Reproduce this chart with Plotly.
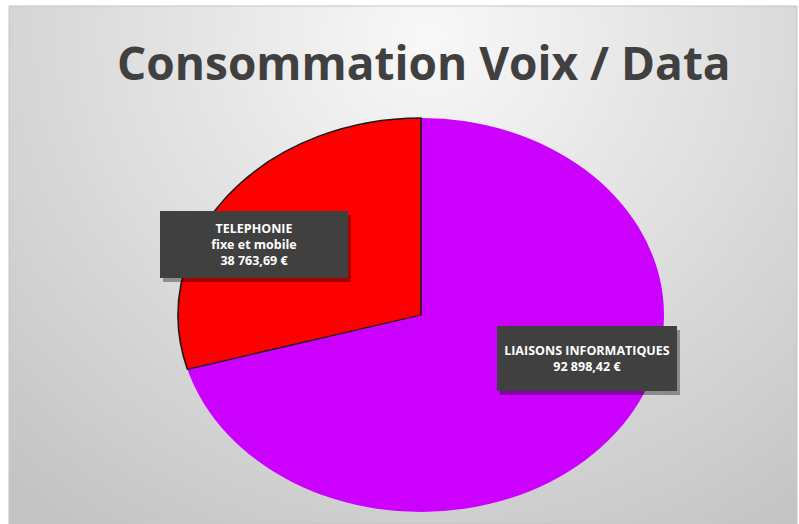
import base64, struct, zlib
import numpy as np
import plotly.graph_objects as go

# ---- data ----
title_text = "Consommation Voix / Data"
labels = ["LIAISONS INFORMATIQUES", "TELEPHONIE<br>fixe et mobile"]
values = [92898.42, 38763.69]
slice_colors = ["#CC00FF", "#FF0000"]

W, H = 799, 524

def fmt_eur(v):
    s = f"{v:,.2f}".replace(",", " ").replace(".", ",")
    return s + " €"

def px(x):
    return x / W

def py(y):
    return 1 - y / H

# ---- radial gradient background (PNG data URI) ----
def gradient_png(w, h):
    yy, xx = np.mgrid[0:h, 0:w].astype(float)
    cx, cy = 420.0, 30.0
    r = np.sqrt(((xx - cx) / 1.05) ** 2 + (yy - cy) ** 2)
    t = np.clip(r / 600.0, 0, 1)
    v = (249 - 53 * t).astype(np.uint8)
    raw = np.hstack([np.zeros((h, 1), np.uint8), v]).tobytes()
    def chunk(tag, data):
        c = struct.pack(">I", len(data)) + tag + data
        return c + struct.pack(">I", zlib.crc32(tag + data) & 0xFFFFFFFF)
    png = b"\x89PNG\r\n\x1a\n"
    png += chunk(b"IHDR", struct.pack(">IIBBBBB", w, h, 8, 0, 0, 0, 0))
    png += chunk(b"IDAT", zlib.compress(raw, 9))
    png += chunk(b"IEND", b"")
    return "data:image/png;base64," + base64.b64encode(png).decode()

fx0, fy0, fx1, fy1 = 9, 6, 797, 524
bg = gradient_png(fx1 - fx0, fy1 - fy0)

# ---- pie ----
cx, cy, rad = 421, 315, 197
stretch = 243 / 197   # the reference pie is drawn as an ellipse
fig = go.Figure(go.Pie(
    labels=labels,
    values=values,
    sort=False,
    direction="clockwise",
    rotation=0,
    textinfo="none",
    hoverinfo="label+value+percent",
    marker=dict(colors=slice_colors,
                line=dict(color=["rgba(0,0,0,0)", "#1a1a1a"], width=[0, 1.3])),
    domain=dict(x=[px(cx - rad), px(cx + rad)], y=[py(cy + rad), py(cy - rad)]),
    showlegend=False,
))

# ---- label boxes ----
boxes = [
    (497, 326, 677, 391),   # LIAISONS
    (160, 211, 348, 278),   # TELEPHONIE
]
shapes = [dict(type="rect", xref="paper", yref="paper",
               x0=px(fx0), y0=py(fy1), x1=px(fx1), y1=py(fy0),
               line=dict(color="#c4c4c4", width=1), fillcolor="rgba(0,0,0,0)",
               layer="below")]
annotations = []
for (x0, y0, x1, y1), lab, val in zip(boxes, labels, values):
    shapes.append(dict(type="rect", xref="paper", yref="paper",
                       x0=px(x0 + 3), y0=py(y1 + 4), x1=px(x1 + 3), y1=py(y0 + 4),
                       line=dict(width=0), fillcolor="rgba(0,0,0,0.35)", layer="above"))
    annotations.append(dict(
        x=px((x0 + x1) / 2), y=py((y0 + y1) / 2), xref="paper", yref="paper",
        xanchor="center", yanchor="middle", showarrow=False,
        text="<b>" + lab + "<br>" + fmt_eur(val) + "</b>",
        font=dict(family="Open Sans", size=12.5, color="#ffffff"),
        bgcolor="#404040", borderpad=0, borderwidth=0,
        width=x1 - x0, height=y1 - y0, align="center",
    ))

annotations.append(dict(
    x=px(424), y=py(62), xref="paper", yref="paper",
    xanchor="center", yanchor="middle", showarrow=False,
    text="<b>" + title_text + "</b>",
    font=dict(family="Open Sans", size=46, color="#404040"),
))

fig.update_layout(
    width=W, height=H,
    margin=dict(l=0, r=0, t=0, b=0),
    paper_bgcolor="#ffffff",
    plot_bgcolor="rgba(0,0,0,0)",
    images=[dict(source=bg, xref="paper", yref="paper",
                 x=px(fx0), y=py(fy0), sizex=px(fx1) - px(fx0), sizey=py(fy0) - py(fy1),
                 sizing="stretch", layer="below", xanchor="left", yanchor="top")],
    shapes=shapes,
    annotations=annotations,
)

post = (
    "var gd=document.getElementById('{plot_id}');"
    "var pl=gd.querySelector('g.pielayer');"
    "if(pl){pl.setAttribute('transform','translate(%f,0) scale(%f,1) translate(%f,0)');}"
    % (cx, stretch, -cx)
)
fig.write_html("out.html", post_script=post)
